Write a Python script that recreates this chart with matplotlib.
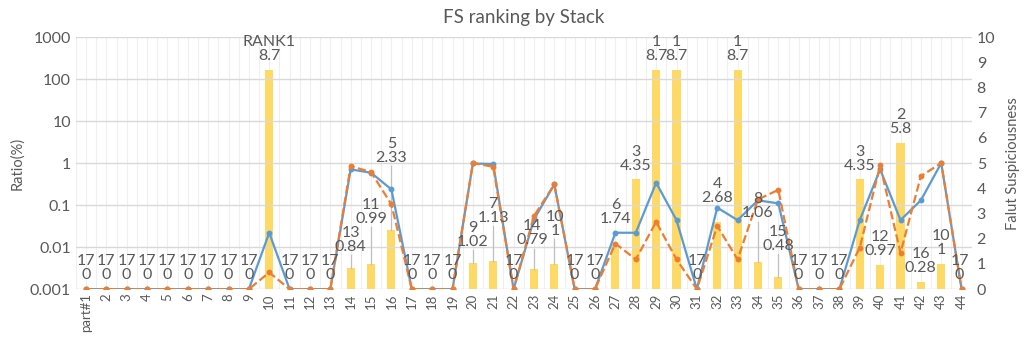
import matplotlib.pyplot as plt
import numpy as np

plt.rcParams['font.family'] = ['Lato', 'DejaVu Sans']

# categories
parts = ["part#1"] + [str(i) for i in range(2, 45)]

# blue solid line (Ratio %, log axis); 0.001 = bottom of axis
ratio_blue = [0.001, 0.001, 0.001, 0.001, 0.001, 0.001, 0.001, 0.001, 0.001, 0.022,
              0.001, 0.001, 0.001, 0.71, 0.59, 0.236, 0.001, 0.001, 0.001, 0.98,
              0.95, 0.001, 0.046, 0.31, 0.001, 0.001, 0.022, 0.022, 0.34, 0.044,
              0.001, 0.087, 0.044, 0.13, 0.11, 0.001, 0.001, 0.001, 0.044, 0.71,
              0.044, 0.13, 1.0, 0.001]

# orange dashed line (Ratio %, log axis)
ratio_orange = [0.001, 0.001, 0.001, 0.001, 0.001, 0.001, 0.001, 0.001, 0.001, 0.0025,
                0.001, 0.001, 0.001, 0.85, 0.61, 0.104, 0.001, 0.001, 0.001, 1.0,
                0.82, 0.001, 0.055, 0.31, 0.001, 0.001, 0.0122, 0.0051, 0.04, 0.0051,
                0.001, 0.032, 0.0051, 0.137, 0.23, 0.001, 0.001, 0.001, 0.0098, 0.88,
                0.0073, 0.49, 1.0, 0.001]

# bars: fault suspiciousness (right axis)
susp = [0, 0, 0, 0, 0, 0, 0, 0, 0, 8.7,
        0, 0, 0, 0.84, 0.99, 2.33, 0, 0, 0, 1.02,
        1.13, 0, 0.79, 1, 0, 0, 1.74, 4.35, 8.7, 8.7,
        0, 2.68, 8.7, 1.06, 0.48, 0, 0, 0, 4.35, 0.97,
        5.8, 0.28, 1, 0]

# rank shown above each bar
ranks = ["17", "17", "17", "17", "17", "17", "17", "17", "17", "RANK1",
         "17", "17", "17", "13", "11", "5", "17", "17", "17", "9",
         "7", "17", "14", "10", "17", "17", "6", "3", "1", "1",
         "17", "4", "1", "8", "15", "17", "17", "17", "3", "12",
         "2", "16", "10", "17"]

# label layout: extra lift of some labels (right-axis units), x nudges, leader lines
label_lift = {13: 0.3, 14: 1.25, 15: 2.35, 19: 0.3, 20: 1.15, 22: 0.6,
              23: 0.75, 26: 0.5, 31: 0.4, 33: 1.4, 34: 0.7}
label_dx = {22: -0.1, 23: 0.05, 43: -0.1}
leaders = [13, 14, 15, 19, 20, 22, 23, 33, 34]

x = np.arange(len(parts))
txt = '#595959'

fig = plt.figure(figsize=(10.24, 3.37), dpi=100)
ax2 = fig.add_axes([0.074, 0.142, 0.875, 0.748])
ax = ax2.twinx()
# log axis on the left, linear axis on the right
ax.yaxis.tick_left()
ax.yaxis.set_label_position('left')
ax2.yaxis.tick_right()
ax2.yaxis.set_label_position('right')

ax.set_zorder(ax2.get_zorder() + 1)
ax.patch.set_visible(False)

# grid
for gx in np.arange(-0.5, len(parts), 0.5):
    ax2.axvline(gx, color='#EFEFEF', lw=0.8, zorder=0)
for d in range(-3, 4):
    ax.axhline(10.0 ** d, color='#D9D9D9', lw=1.0, zorder=0)

ax2.bar(x, susp, width=0.4, color='#FFD966', zorder=2)

ax.plot(x, ratio_blue, color='#5B9BD5', lw=1.6, marker='o', ms=3.2, zorder=3)
ax.plot(x, ratio_orange, color='#ED7D31', lw=1.6, ls='--', marker='o', ms=3.2, zorder=4)

ax.set_yscale('log')
ax.set_ylim(0.001, 1000)
ax.set_yticks([0.001, 0.01, 0.1, 1, 10, 100, 1000])
ax.set_yticklabels(['0.001', '0.01', '0.1', '1', '10', '100', '1000'])
ax.minorticks_off()
ax2.set_ylim(0, 10)
ax2.set_yticks(range(0, 11))
ax.set_xlim(-0.5, len(parts) - 0.5)
ax2.set_xlim(-0.5, len(parts) - 0.5)
ax2.set_xticks(x)
ax2.set_xticklabels(parts, rotation=90, color=txt)

for a in (ax, ax2):
    for s in a.spines.values():
        s.set_visible(False)
    a.tick_params(length=0, colors=txt, labelsize=11.5)
ax2.tick_params(axis='x', labelsize=9.5, pad=3)

ax.set_ylabel('Ratio(%)', color=txt, fontsize=10.5)
ax2.set_ylabel('Falut Suspiciousness', color=txt, fontsize=10.5, labelpad=8)
ax2.set_title('FS ranking by Stack', color=txt, fontsize=13.5, pad=10)

# data labels: rank over value
for i in x:
    v = susp[i]
    cy = v + 0.82 + label_lift.get(i, 0)
    ax.text(i + label_dx.get(i, 0), cy, f"{ranks[i]}\n{v:g}", transform=ax2.transData,
            ha='center', va='center', fontsize=11.5, color=txt, linespacing=1.0, zorder=6)
    if i in leaders:
        ax.plot([i, i], [v, cy - 0.6], transform=ax2.transData, color='#BFBFBF',
                lw=0.9, zorder=1)

fig.savefig('out.png', dpi=100)
